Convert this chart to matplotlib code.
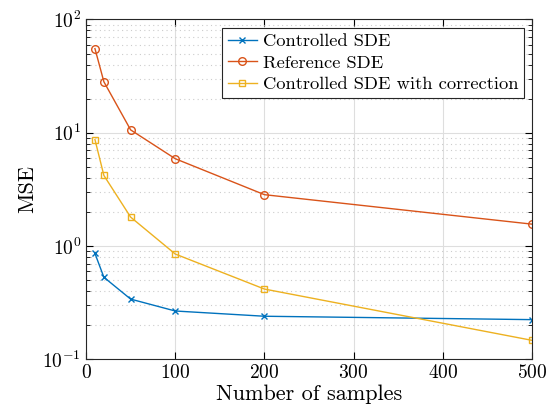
import matplotlib
matplotlib.use('Agg')
import matplotlib.pyplot as plt
from matplotlib.ticker import LogLocator, MultipleLocator

# Data
n_samples = [10, 20, 50, 100, 200, 500]
mse_controlled = [0.86, 0.53, 0.34, 0.267, 0.24, 0.224]
mse_reference = [55.3, 28.2, 10.6, 5.9, 2.84, 1.56]
mse_corrected = [8.7, 4.2, 1.80, 0.85, 0.417, 0.147]

# MATLAB-ish look with Computer Modern text
plt.rcParams['font.family'] = ['cmr10', 'DejaVu Serif']
plt.rcParams['mathtext.fontset'] = 'cm'
plt.rcParams['axes.formatter.use_mathtext'] = True

fig = plt.figure(figsize=(5.48, 4.18), dpi=100)
ax = fig.add_axes([0.157, 0.1404, 0.814, 0.813])

ax.plot(n_samples, mse_controlled, color='#0072BD', marker='x', markersize=4.5,
        linewidth=1.0, label='Controlled SDE')
ax.plot(n_samples, mse_reference, color='#D95319', marker='o', markersize=5.5,
        markerfacecolor='none', linewidth=1.0, label='Reference SDE')
ax.plot(n_samples, mse_corrected, color='#EDB120', marker='s', markersize=4.5,
        markerfacecolor='none', linewidth=1.0, label='Controlled SDE with correction')

ax.set_yscale('log')
ax.set_xlim(0, 500)
ax.set_ylim(0.1, 100)
ax.xaxis.set_major_locator(MultipleLocator(100))
ax.yaxis.set_major_locator(LogLocator(base=10, numticks=10))
ax.yaxis.set_minor_locator(LogLocator(base=10, subs=range(2, 10), numticks=20))

# grid: solid light major, dotted minor on y
ax.grid(True, which='major', color='#dedede', linewidth=0.8)
ax.grid(True, which='minor', axis='y', color='#cccccc', linestyle=(0, (1, 3)), linewidth=0.8)
ax.set_axisbelow(True)

ax.tick_params(which='both', direction='in', top=True, right=True, labelsize=14)
ax.tick_params(which='major', length=5)
ax.tick_params(which='minor', length=3)
for s in ax.spines.values():
    s.set_linewidth(0.8)
    s.set_color('#262626')

ax.set_xlabel('Number of samples', fontsize=16, labelpad=2)
ax.set_ylabel('MSE', fontsize=16, labelpad=4)

leg = ax.legend(loc='upper right', fontsize=13.3, fancybox=False, framealpha=1,
                edgecolor='#262626', handlelength=1.6, handletextpad=0.3,
                borderpad=0.3, labelspacing=0.3, borderaxespad=0.45)
leg.get_frame().set_linewidth(0.8)

fig.savefig('out.png', dpi=100)
